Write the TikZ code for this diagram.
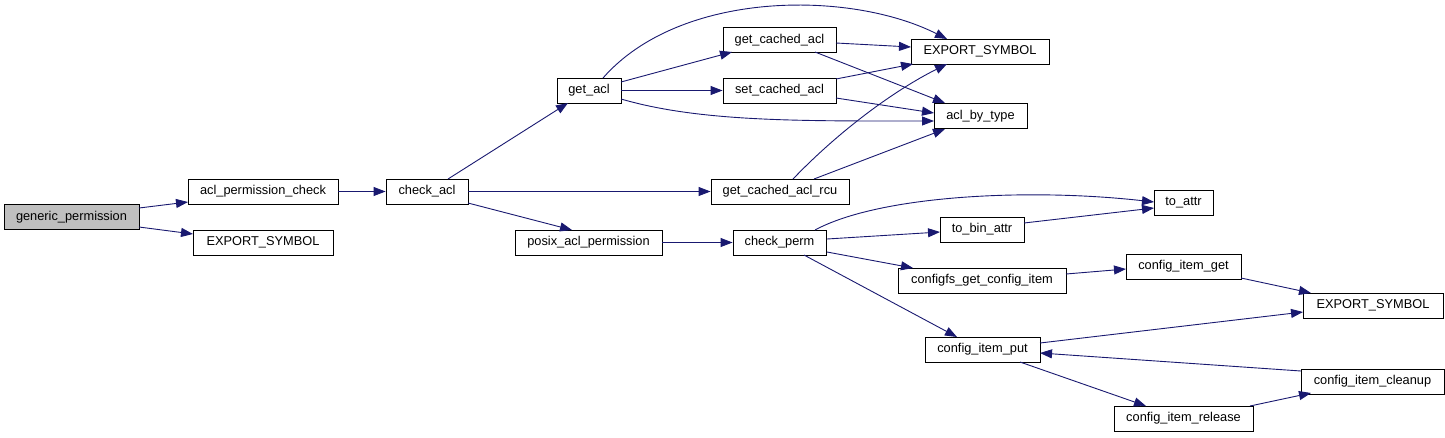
\documentclass[tikz,border=0pt]{standalone}
\usepackage{fontspec}
\setmainfont{Liberation Sans}
\usetikzlibrary{calc,arrows.meta}
\definecolor{edgec}{HTML}{191970}
\definecolor{gpfill}{HTML}{BFBFBF}
\begin{document}
\begin{tikzpicture}[x=1pt,y=-1pt,
  box/.style={draw=black, line width=0.9pt, fill=white, minimum height=25pt, inner sep=0pt,
    font=\fontsize{12.8}{14}\selectfont},
  edge/.style={draw=edgec, line width=0.9pt, -{Triangle[length=12pt,width=9pt]}}]
\useasboundingbox (0,0) rectangle (1445,437);
% nodes
\node[box,fill=gpfill,minimum width=135pt] (gp) at (71.5,217) {generic\_permission};
\node[box,minimum width=150pt] (apc) at (263,191.5) {acl\_permission\_check};
\node[box,minimum width=140pt] (es1) at (263,242.5) {EXPORT\_SYMBOL};
\node[box,minimum width=82pt] (ca) at (427,191.5) {check\_acl};
\node[box,minimum width=64pt] (ga) at (589,90.5) {get\_acl};
\node[box,minimum width=147pt] (posix) at (588.5,242.5) {posix\_acl\_permission};
\node[box,minimum width=113pt] (gca) at (779.5,40) {get\_cached\_acl};
\node[box,minimum width=113pt] (sca) at (779.5,90.5) {set\_cached\_acl};
\node[box,minimum width=138pt] (rcu) at (780,191.5) {get\_cached\_acl\_rcu};
\node[box,minimum width=93pt] (cp) at (779.5,242.5) {check\_perm};
\node[box,minimum width=138pt] (es2) at (980,51.5) {EXPORT\_SYMBOL};
\node[box,minimum width=93pt] (abt) at (980.5,116) {acl\_by\_type};
\node[box,minimum width=84pt] (tobin) at (982,229.5) {to\_bin\_attr};
\node[box,minimum width=168pt] (cfg) at (982,280.5) {configfs\_get\_config\_item};
\node[box,minimum width=115pt] (cip) at (982.5,349.5) {config\_item\_put};
\node[box,minimum width=59pt] (toattr) at (1183.5,203) {to\_attr};
\node[box,minimum width=115pt] (cig) at (1183.5,266.5) {config\_item\_get};
\node[box,minimum width=139pt] (cir) at (1183.5,418.5) {config\_item\_release};
\node[box,minimum width=140pt] (es3) at (1373,305.5) {EXPORT\_SYMBOL};
\node[box,minimum width=143pt] (cic) at (1372.5,381.5) {config\_item\_cleanup};
% edges
\draw[edge] ($(gp)+(67.5,-9)$) -- ($(apc)+(-75,10.5)$);
\draw[edge] ($(gp)+(67.5,10)$) -- ($(es1)+(-70,-8.5)$);
\draw[edge] (apc.east) -- (ca.west);
\draw[edge] ($(ca)+(21,-12.5)$) -- ($(ga)+(-21,12.5)$);
\draw[edge] (ca.east) -- (rcu.west);
\draw[edge] ($(ca)+(41,11.5)$) -- ($(posix)+(-16.5,-12.5)$);
\draw[edge] ($(ga)+(14,-12.5)$) .. controls (680,-10) and (850,-10) .. ($(es2)+(-33,-12.5)$);
\draw[edge] ($(ga)+(32,-8.5)$) -- ($(gca)+(-47.5,12)$);
\draw[edge] (ga.east) -- (sca.west);
\draw[edge] ($(ga)+(32,8.5)$) .. controls (700,122) and (800,121) .. ($(abt)+(-46.5,5)$);
\draw[edge] ($(gca)+(56.5,3)$) -- ($(es2)+(-69,-4.5)$);
\draw[edge] ($(gca)+(35.5,12)$) -- ($(abt)+(-35.5,-13)$);
\draw[edge] ($(sca)+(56.5,-11.5)$) -- ($(es2)+(-67,12.5)$);
\draw[edge] ($(sca)+(56.5,7.5)$) -- ($(abt)+(-46.5,-3)$);
\draw[edge] ($(rcu)+(13,-12.5)$) .. controls (840,130) and (895,90) .. ($(es2)+(-33,12.5)$);
\draw[edge] ($(rcu)+(34,-12.5)$) -- ($(abt)+(-35.5,13)$);
\draw[edge] (posix.east) -- (cp.west);
\draw[edge] ($(cp)+(35.5,-12.5)$) .. controls (880,195) and (1030,188) .. ($(toattr)+(-29.5,-1)$);
\draw[edge] ($(cp)+(47.5,-3.5)$) -- ($(tobin)+(-42,2.5)$);
\draw[edge] ($(tobin)+(42,-6.5)$) -- ($(toattr)+(-29.5,5)$);
\draw[edge] ($(cp)+(47.5,9.5)$) -- ($(cfg)+(-69,-12.5)$);
\draw[edge] ($(cp)+(24.5,12.5)$) -- ($(cip)+(-25.5,-12.5)$);
\draw[edge] ($(cfg)+(84,-6.5)$) -- ($(cig)+(-57.5,2.5)$);
\draw[edge] ($(cig)+(57.5,11.5)$) -- ($(es3)+(-62,-12.5)$);
\draw[edge] ($(cip)+(57.5,-6.5)$) -- ($(es3)+(-70,6.5)$);
\draw[edge] ($(cip)+(37.5,12.5)$) -- ($(cir)+(-37.5,-12.5)$);
\draw[edge] ($(cir)+(66.5,-12.5)$) -- ($(cic)+(-61.5,11.5)$);
\draw[edge] ($(cic)+(-71.5,-10.5)$) -- ($(cip)+(57.5,3.5)$);
\end{tikzpicture}
\end{document}
